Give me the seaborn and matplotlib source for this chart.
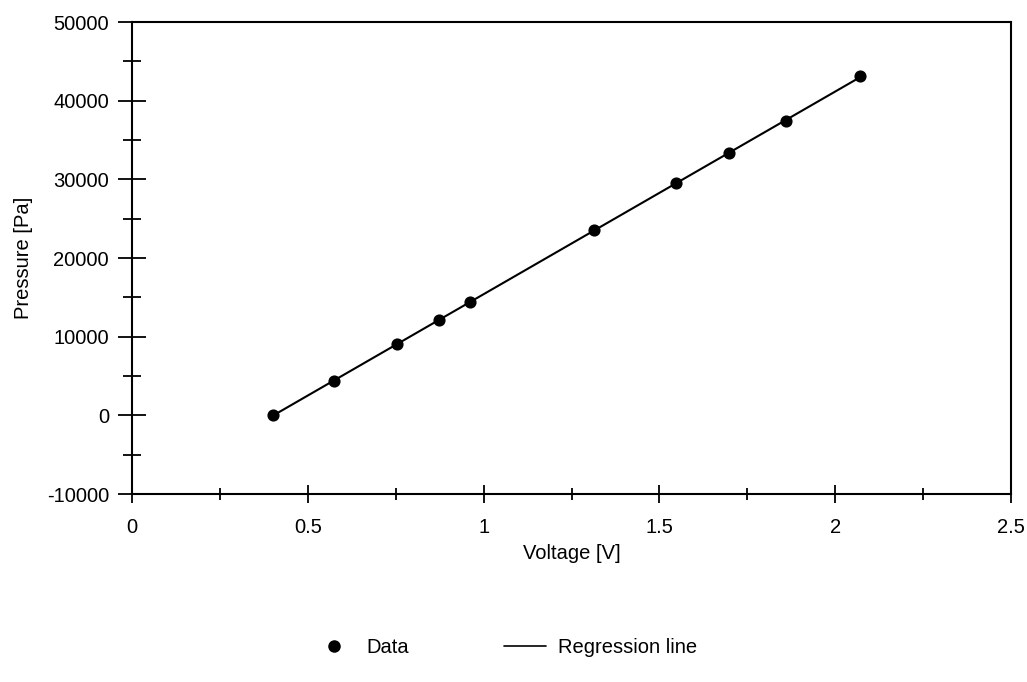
import matplotlib
matplotlib.use("Agg")
import matplotlib.pyplot as plt
from matplotlib.lines import Line2D
from matplotlib.ticker import MultipleLocator, FuncFormatter
import seaborn as sns
import pandas as pd

voltage = [0.400, 0.575, 0.753, 0.874, 0.961, 1.315, 1.546, 1.699, 1.860, 2.071]
pressure = [0, 4400, 9070, 12120, 14370, 23560, 29500, 33310, 37420, 43140]
x_label = "Voltage [V]"
y_label = "Pressure [Pa]"
legend_labels = ["Data", "Regression line"]

df = pd.DataFrame({"voltage": voltage, "pressure": pressure})

sns.set_style("ticks")
plt.rcParams["font.family"] = ["Liberation Sans", "DejaVu Sans"]
plt.rcParams["text.color"] = "black"
plt.rcParams["axes.labelcolor"] = "black"

FS = 14.5

fig = plt.figure(figsize=(10.27, 6.82), dpi=100)
ax = fig.add_axes([132 / 1027, 1 - 494 / 682, (1011 - 132) / 1027, (494 - 22) / 682])

sns.regplot(data=df, x="voltage", y="pressure", ax=ax, ci=None, color="black",
            marker="o", scatter_kws={"s": 60, "alpha": 1, "edgecolors": "black", "zorder": 3},
            line_kws={"lw": 1.5, "color": "black"})

ax.set_xlim(0, 2.5)
ax.set_ylim(-10000, 50000)
ax.xaxis.set_major_locator(MultipleLocator(0.5))
ax.xaxis.set_minor_locator(MultipleLocator(0.25))
ax.yaxis.set_major_locator(MultipleLocator(10000))
ax.yaxis.set_minor_locator(MultipleLocator(5000))
ax.xaxis.set_major_formatter(FuncFormatter(lambda v, p: f"{v:g}"))
ax.yaxis.set_major_formatter(FuncFormatter(lambda v, p: f"{v:.0f}"))

ax.tick_params(axis="y", which="major", direction="inout", length=20, width=1.3, labelsize=FS, pad=6.5, colors="black")
ax.tick_params(axis="y", which="minor", direction="inout", length=13, width=1.3, colors="black")
ax.tick_params(axis="x", which="major", direction="inout", length=13, width=1.3, labelsize=FS, pad=11, colors="black")
ax.tick_params(axis="x", which="minor", direction="inout", length=9, width=1.3, colors="black")

for s in ax.spines.values():
    s.set_visible(True)
    s.set_linewidth(1.5)
    s.set_color("black")

ax.set_xlabel(x_label, fontsize=FS, labelpad=5, color="black")
ax.set_ylabel(y_label, fontsize=FS, labelpad=10, color="black")

handles = [
    Line2D([], [], marker="o", linestyle="none", color="black", markersize=8),
    Line2D([], [], color="black", lw=1.2),
]
fig.legend(handles, legend_labels, loc="center", bbox_to_anchor=(505 / 1027, 0.05),
           ncol=2, frameon=False, fontsize=FS, handlelength=2.1,
           handletextpad=0.6, columnspacing=4.7, labelcolor="black")

fig.savefig("out.png", dpi=100)
